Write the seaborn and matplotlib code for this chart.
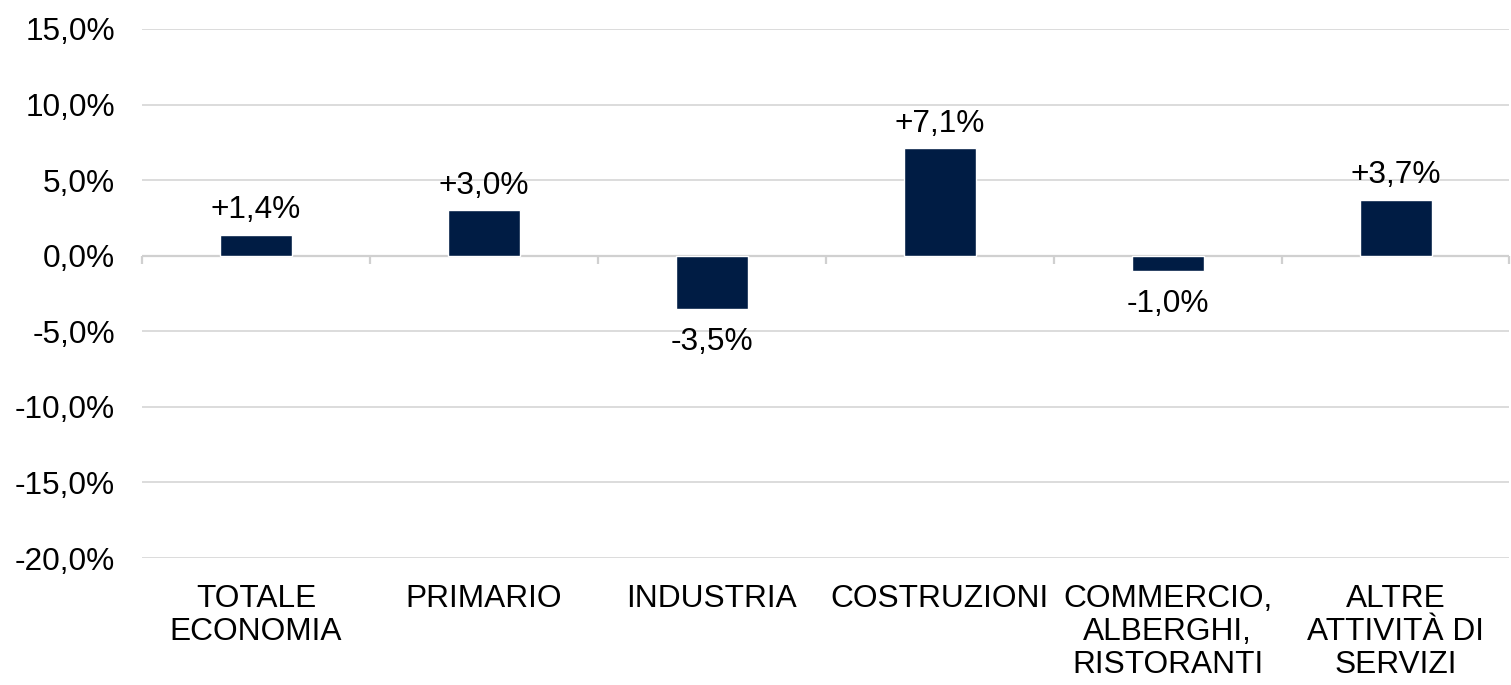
import numpy as np
import pandas as pd
import matplotlib
matplotlib.use("Agg")
import matplotlib.pyplot as plt
import seaborn as sns

categories = ["TOTALE\nECONOMIA", "PRIMARIO", "INDUSTRIA", "COSTRUZIONI",
              "COMMERCIO,\nALBERGHI,\nRISTORANTI", "ALTRE\nATTIVITÀ DI\nSERVIZI"]
values = [1.4, 3.0, -3.5, 7.1, -1.0, 3.7]
y_ticks = [-20, -15, -10, -5, 0, 5, 10, 15]

sns.set_theme(style="white")
plt.rcParams["font.family"] = ["Liberation Sans", "DejaVu Sans"]

FS = 22.8

df = pd.DataFrame({"settore": categories, "valore": values})

fig = plt.figure(figsize=(15.11, 6.85), dpi=100)
ax = fig.add_axes([0.094, 0.1854, 0.905, 0.7723])

sns.barplot(data=df, x="settore", y="valore", color="#001C44",
            width=0.316, saturation=1, ax=ax, zorder=3)

ax.set_ylim(-20, 15)
ax.set_xlim(-0.5, len(categories) - 0.5)
ax.set_yticks(y_ticks)
ax.set_yticklabels([f"{t:.1f}%".replace(".", ",") for t in y_ticks])
ax.yaxis.grid(True, color="#d9d9d9", linewidth=1.3, zorder=0)
ax.set_xlabel("")
ax.set_ylabel("")
for s in ax.spines.values():
    s.set_visible(False)
ax.tick_params(axis="y", length=0, pad=19.5, labelsize=FS, labelcolor="black")
ax.tick_params(axis="x", length=0, pad=19, labelsize=FS, labelcolor="black")
for lab in ax.get_xticklabels():
    lab.set_linespacing(1.12)

# zero baseline with category separators
ax.axhline(0, color="#d0d0d0", linewidth=1.6, zorder=2)
bounds = np.arange(len(categories) + 1) - 0.5
ax.vlines(bounds, -0.55, 0, color="#d0d0d0", linewidth=1.6, zorder=2, clip_on=False)

labels = [f"{v:+.1f}%".replace(".", ",") for v in values]
pos_labels = [l if v >= 0 else "" for l, v in zip(labels, values)]
neg_labels = [l if v < 0 else "" for l, v in zip(labels, values)]
ax.bar_label(ax.containers[0], labels=pos_labels, padding=7, fontsize=FS, color="black")
ax.bar_label(ax.containers[0], labels=neg_labels, padding=13, fontsize=FS, color="black")

fig.savefig("out.png", dpi=100, facecolor="white")
